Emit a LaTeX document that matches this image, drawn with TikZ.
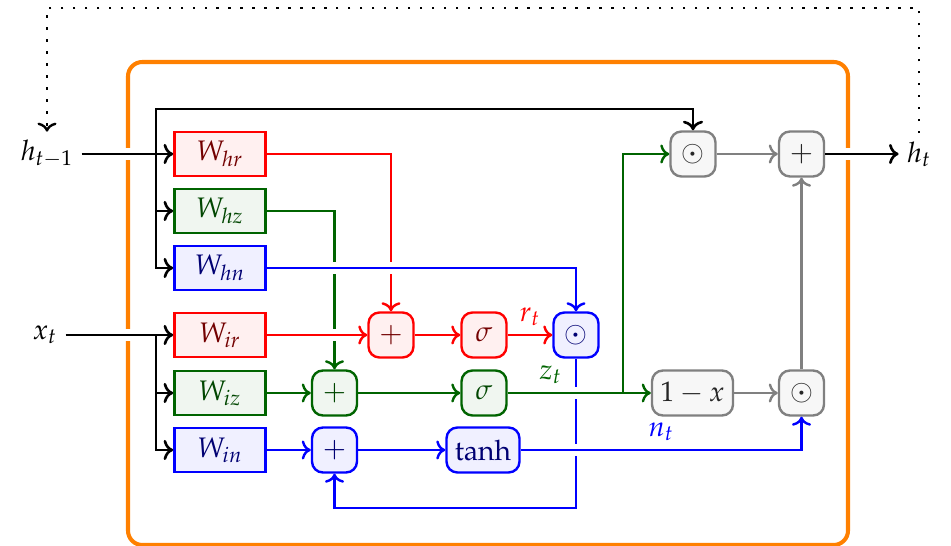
\documentclass[tikz,border=0pt]{standalone}
\usepackage{mathpazo}
\usetikzlibrary{arrows.meta,calc,positioning}
\definecolor{dkgreen}{RGB}{0,100,0}
\tikzset{
  wbox/.style     = {draw, line width=1pt, minimum width=1.34cm,
                     minimum height=0.65cm, inner sep=0pt},
  opbox/.style    = {draw, line width=1pt, rounded corners=4.5pt,
                     minimum size=0.66cm, inner sep=2pt},
  redpart/.style  = {draw=red, fill=red!6, text=red!45!black},
  greenpart/.style= {draw=dkgreen, fill=dkgreen!6, text=dkgreen!70!black},
  bluepart/.style = {draw=blue, fill=blue!6, text=blue!45!black},
  graypart/.style = {draw=gray, fill=gray!6, text=black!85},
  conn/.style     = {line width=1pt, ->},
  mainconn/.style = {line width=1.1pt, ->},
  gap/.style      = {preaction={draw=white, line width=5pt, -,
                     shorten <=3pt, shorten >=5pt}},
  cell/.style     = {draw=orange, line width=1.7pt, rounded corners=6pt},
  loopback/.style = {loosely dotted, line width=1pt, ->},
}

\begin{document}
\begin{tikzpicture}[x=0.0147cm,y=-0.0147cm,
                    font=\fontsize{11.8}{14}\selectfont]
  \useasboundingbox (0,0) rectangle (951,546);

  % inputs and output
  \node (hin) at (47,154) {$h_{t-1}$};
  \node (xin) at (45,335) {$x_t$};
  \node (hout) at (919,154) {$h_t$};

  % weights
  \node[wbox, redpart]   (Whr) at (220,154) {$W_{hr}$};
  \node[wbox, greenpart] (Whz) at (220,211) {$W_{hz}$};
  \node[wbox, bluepart]  (Whn) at (220,268) {$W_{hn}$};
  \node[wbox, redpart]   (Wir) at (220,335) {$W_{ir}$};
  \node[wbox, greenpart] (Wiz) at (220,393) {$W_{iz}$};
  \node[wbox, bluepart]  (Win) at (220,450) {$W_{in}$};

  % gates
  \node[opbox, redpart]   (radd) at (391,335) {$+$};
  \node[opbox, greenpart] (zadd) at (334.5,393) {$+$};
  \node[opbox, bluepart]  (nadd) at (334.5,450) {$+$};
  \node[opbox, redpart]   (rsig) at (484,335) {$\sigma$};
  \node[opbox, greenpart] (zsig) at (484,393) {$\sigma$};
  \node[opbox, bluepart, inner xsep=3.5pt] (ntanh) at (483,450) {$\tanh$};
  \node[opbox, bluepart]  (rmul) at (576,335) {$\odot$};

  % state update
  \node[opbox, graypart] (hmul) at (693,154) {$\odot$};
  \node[opbox, graypart] (hadd) at (801.5,154) {$+$};
  \node[opbox, graypart, inner xsep=3.5pt] (omz) at (692.5,393) {$1-x$};
  \node[opbox, graypart] (zmul) at (801.5,393) {$\odot$};

  \coordinate (hsplit) at (156,154);
  \coordinate (xsplit) at (156,335);
  \coordinate (bustop) at (156,109);
  \coordinate (zsplit) at (623,393);
  \coordinate (fback) at (576,508);
  \coordinate (looptop) at (0,8);

  \draw[cell] (128,62) rectangle (848,545);

  % crossed lines first
  \draw[conn, red] (Whr) -| (radd);
  \draw[conn, dkgreen] (Whz) -| (zadd);
  \draw[conn, blue] (rmul) -- (fback) -| (nadd);

  % reset gate
  \draw[conn, red, gap] (Wir) -- (radd);
  \draw[conn, red] (radd) -- (rsig);
  \draw[conn, red] (rsig) -- node[above] {$r_t$} (rmul);

  % update gate
  \draw[conn, dkgreen] (Wiz) -- (zadd);
  \draw[conn, dkgreen] (zadd) -- (zsig);
  \draw[conn, dkgreen, gap] (zsig) -- node[above, pos=0.3] {$z_t$} (omz);
  \draw[conn, dkgreen] (zsplit) |- (hmul);

  % new gate
  \draw[conn, blue, gap] (Whn) -| (rmul);
  \draw[conn, blue] (Win) -- (nadd);
  \draw[conn, blue] (nadd) -- (ntanh);
  \draw[conn, blue, gap] (ntanh) -| node[above, pos=0.25] {$n_t$} (zmul);

  % output
  \draw[conn, gray] (omz) -- (zmul);
  \draw[conn, gray] (hmul) -- (hadd);
  \draw[conn, gray] (zmul) -- (hadd);

  \draw[mainconn, gap] (hin) -- (Whr);
  \draw[mainconn, gap] (xin) -- (Wir);
  \draw[mainconn, gap] (hadd) -- (hout);
  \draw[mainconn] (hsplit) -- (bustop) -| (hmul);
  \draw[mainconn] (hsplit) |- (Whz);
  \draw[mainconn] (hsplit) |- (Whn);
  \draw[mainconn] (xsplit) |- (Wiz);
  \draw[mainconn] (xsplit) |- (Win);

  \draw[loopback] (hout) -- (hout |- looptop) -| (hin);
\end{tikzpicture}
\end{document}
